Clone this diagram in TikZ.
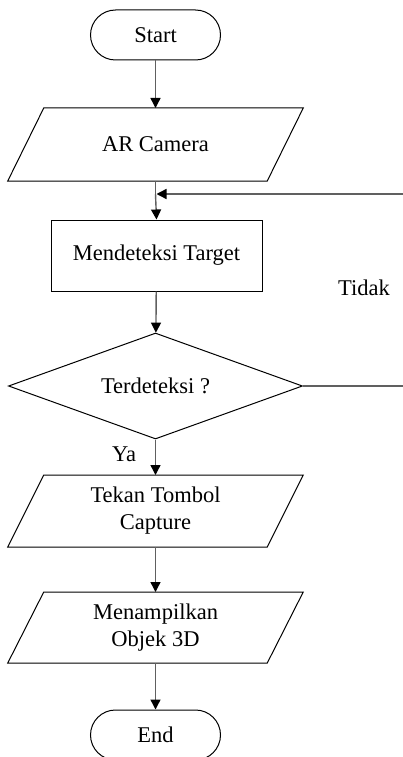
\documentclass[tikz,border=0pt]{standalone}
\usepackage{fontspec}
\setmainfont{Liberation Serif}
\usetikzlibrary{shapes.geometric,arrows.meta}
\begin{document}
\begin{tikzpicture}[x=1pt,y=-1pt,
  every node/.style={font=\fontsize{22.5}{27}\selectfont, text=black},
  term/.style={draw=black, line width=1pt, rectangle, rounded corners=25pt, minimum width=130pt, minimum height=50pt, inner sep=0pt},
  io/.style={rectangle, minimum width=259.5pt, minimum height=72pt, inner sep=0pt, outer sep=0pt, align=center},
  ioline/.style={draw=black, line width=1pt, line join=miter},
  proc/.style={draw=black, line width=1pt, rectangle, minimum width=211pt, minimum height=71pt, inner sep=0pt},
  dec/.style={draw=black, line width=1pt, diamond, shape aspect=2.77, minimum width=294pt, minimum height=106pt, inner sep=0pt},
  conn/.style={draw={rgb,255:red,96;green,96;blue,96}, line width=1.4pt, -{Triangle[length=10pt,width=10pt,color=black]}},
  plain/.style={draw={rgb,255:red,96;green,96;blue,96}, line width=1.4pt}
]
\useasboundingbox (0,0) rectangle (403,757);
\clip (0,0) rectangle (403,757);
\node[term] (start) at (155.5,35) {Start};
\node[io, minimum height=73pt] (cam) at (155.5,144.5) {AR Camera};
\node[proc] (det) at (156.5,255.5) {Mendeteksi Target};
\node[dec] (q) at (155.5,386) {Terdeteksi ?};
\node[io] (cap) at (155.5,511) {Tekan Tombol\\Capture};
\node[io, minimum height=71pt] (show) at (155.5,627.5) {Menampilkan\\Objek 3D};
\node[term] (end) at (155.5,735) {End};
\foreach \n in {cam,cap,show}
  \draw[ioline] ([xshift=18pt]\n.north west) -- ([xshift=18pt]\n.north east) -- ([xshift=-18pt]\n.south east) -- ([xshift=-18pt]\n.south west) -- cycle;
\coordinate (join) at (155.5,194);
\coordinate (r1) at (412,386);
\coordinate (r2) at (412,194);
\coordinate (jtip) at (156.5,194);
\node (tidak) at (364,288) {Tidak};
\node (ya) at (124,454) {Ya};
\draw[conn] (start) -- (cam);
\draw[plain] (cam.south) -- (join);
\draw[conn] (join) -- (det.north);
\draw[conn] (q.east) -- (r1) -- (r2) -- (jtip);
\draw[conn] (det) -- (q);
\draw[conn] (q) -- (cap);
\draw[conn] (cap) -- (show);
\draw[conn] (show) -- (end);
\end{tikzpicture}
\end{document}
